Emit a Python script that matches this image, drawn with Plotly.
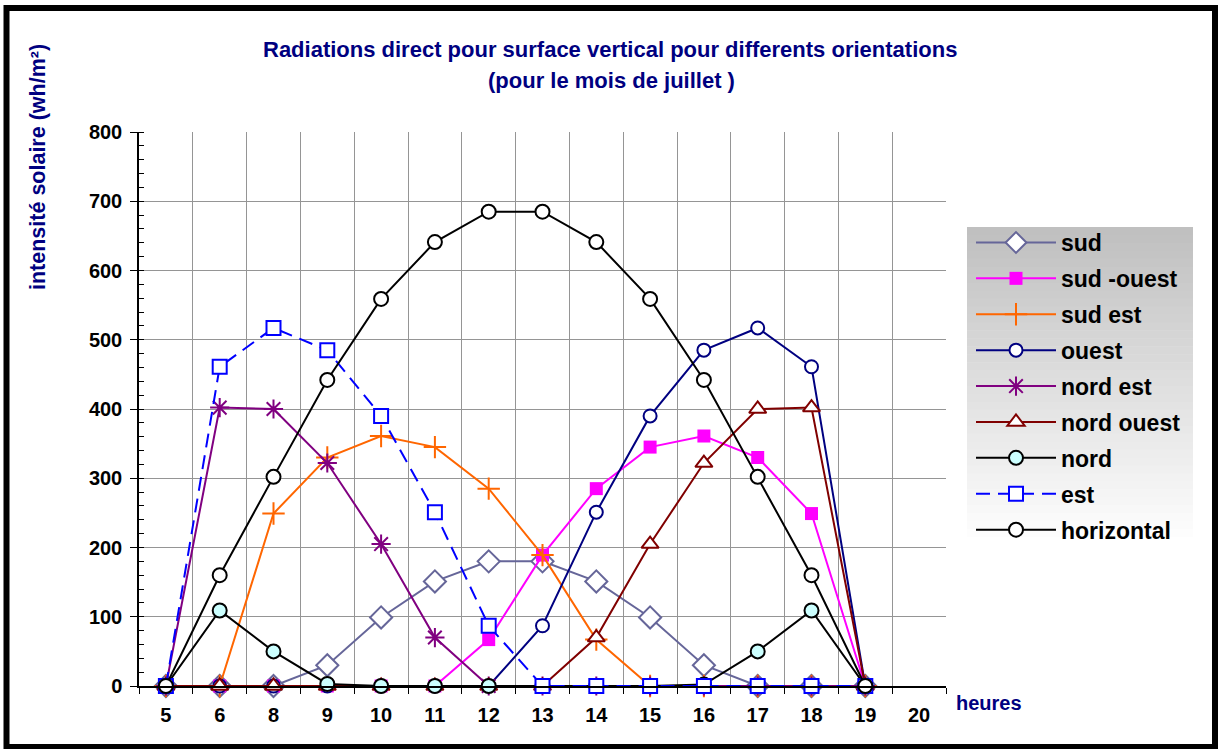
import plotly.graph_objects as go

hours = ["5", "6", "8", "9", "10", "11", "12", "13", "14", "15", "16", "17", "18", "19", "20"]
data_hours = hours[:14]

sud = [0, 0, 0, 30, 99, 151, 180, 180, 151, 99, 30, 0, 0, 0]
sud_ouest = [0, 0, 0, 0, 0, 0, 67, 189, 285, 345, 361, 330, 249, 0]
sud_est = [0, 0, 249, 330, 361, 345, 285, 189, 67, 0, 0, 0, 0, 0]
ouest = [0, 0, 0, 0, 0, 0, 0, 87, 251, 390, 485, 517, 461, 0]
nord_est = [0, 402, 400, 322, 205, 70, 0, 0, 0, 0, 0, 0, 0, 0]
nord_ouest = [0, 0, 0, 0, 0, 0, 0, 0, 70, 205, 322, 400, 402, 0]
nord = [0, 109, 50, 3, 0, 0, 0, 0, 0, 0, 2, 50, 109, 0]
est = [0, 461, 517, 485, 390, 251, 87, 0, 0, 0, 0, 0, 0, 0]
horizontal = [0, 160, 302, 442, 559, 641, 685, 685, 641, 559, 442, 302, 160, 0]

series_names = ["sud", "sud -ouest", "sud est", "ouest", "nord est", "nord ouest", "nord", "est", "horizontal"]
series_values = [sud, sud_ouest, sud_est, ouest, nord_est, nord_ouest, nord, est, horizontal]

FONT = "Liberation Sans, Arial, sans-serif"
NAVY = "#000080"

styles = {
    "sud": dict(line=dict(color="#666699", width=2),
                marker=dict(symbol="diamond", size=17, color="white", line=dict(color="#666699", width=2))),
    "sud -ouest": dict(line=dict(color="#FF00FF", width=2),
                       marker=dict(symbol="square", size=13, color="#FF00FF", line=dict(color="#FF00FF", width=0))),
    "sud est": dict(line=dict(color="#FF6600", width=2),
                    marker=dict(symbol="cross-thin-open", size=16, color="#FF6600", line=dict(color="#FF6600", width=2))),
    "ouest": dict(line=dict(color="#000080", width=2),
                  marker=dict(symbol="circle", size=13, color="white", line=dict(color="#000080", width=2))),
    "nord est": dict(line=dict(color="#800080", width=2),
                     marker=dict(symbol="asterisk-open", size=16, color="#800080", line=dict(color="#800080", width=2))),
    "nord ouest": dict(line=dict(color="#800000", width=2),
                       marker=dict(symbol="triangle-up", size=15, color="white", line=dict(color="#800000", width=2))),
    "nord": dict(line=dict(color="black", width=2),
                 marker=dict(symbol="circle", size=14, color="#CCFFFF", line=dict(color="black", width=2))),
    "est": dict(line=dict(color="#0000FF", width=2, dash="14px,8px"),
                marker=dict(symbol="square", size=14, color="white", line=dict(color="#0000FF", width=2))),
    "horizontal": dict(line=dict(color="black", width=2),
                       marker=dict(symbol="circle", size=14, color="white", line=dict(color="black", width=2))),
}

fig = go.Figure()
for name, vals in zip(series_names, series_values):
    st = styles[name]
    fig.add_trace(go.Scatter(x=data_hours, y=vals, name=name, mode="lines+markers",
                             line=st["line"], marker=st["marker"], cliponaxis=False,
                             legendgroup=name))

L, T, W, H = 139, 132, 807, 554


def px(x):
    return (x - L) / W


def py(y):
    return (T + H - y) / H


shapes = []
# legend gradient background
y0, y1 = 227, 545
n = 40
for i in range(n):
    ya = y0 + (y1 - y0) * i / n
    yb = y0 + (y1 - y0) * (i + 1) / n
    t = i / (n - 1)
    c = int(192 + (255 - 192) * t)
    shapes.append(dict(type="rect", xref="paper", yref="paper",
                       x0=px(967), x1=px(1193), y0=py(yb + 0.5), y1=py(ya),
                       fillcolor=f"rgb({c},{c},{c})", line=dict(width=0), layer="above"))
# outer frame
shapes.append(dict(type="rect", xref="paper", yref="paper",
                   x0=px(6.5), x1=px(1215), y0=py(747), y1=py(8),
                   line=dict(color="black", width=6), fillcolor="rgba(0,0,0,0)", layer="above"))

annotations = [
    dict(text="Radiations direct pour surface vertical pour differents orientations",
         xref="paper", yref="paper", x=px(610), y=py(50), xanchor="center", yanchor="middle",
         showarrow=False, font=dict(family=FONT, size=22, color=NAVY, weight="bold")),
    dict(text="(pour le mois de juillet )",
         xref="paper", yref="paper", x=px(611), y=py(80), xanchor="center", yanchor="middle",
         showarrow=False, font=dict(family=FONT, size=22, color=NAVY, weight="bold")),
    dict(text="intensité solaire (wh/m²)", textangle=-90,
         xref="paper", yref="paper", x=px(38), y=py(167), xanchor="center", yanchor="middle",
         showarrow=False, font=dict(family=FONT, size=21.5, color=NAVY, weight="bold")),
    dict(text="heures",
         xref="paper", yref="paper", x=px(989), y=py(703), xanchor="center", yanchor="middle",
         showarrow=False, font=dict(family=FONT, size=20, color=NAVY, weight="bold")),
]

fig.update_layout(
    width=1222, height=749,
    margin=dict(l=L, r=1222 - L - W, t=T, b=749 - T - H, autoexpand=False),
    paper_bgcolor="white", plot_bgcolor="white",
    shapes=shapes, annotations=annotations,
    showlegend=True,
    legend=dict(x=px(971), y=py(221), xanchor="left", yanchor="top",
                bgcolor="rgba(0,0,0,0)", borderwidth=0,
                font=dict(family=FONT, size=23, color="black", weight="bold"),
                itemwidth=80, tracegroupgap=3, traceorder="grouped"),
)

fig.update_xaxes(type="category", categoryorder="array", categoryarray=hours,
                 tickvals=hours, range=[-0.5, 14.5],
                 tickson="boundaries", ticks="outside", ticklen=6, tickcolor="black",
                 ticklabelstandoff=10,
                 showgrid=True, gridcolor="#959595", gridwidth=1,
                 showline=True, linecolor="black", linewidth=1.5,
                 tickfont=dict(family=FONT, size=20, color="black", weight="bold"),
                 zeroline=False, fixedrange=True)

fig.update_yaxes(range=[0, 800], dtick=100, tick0=0,
                 ticks="outside", ticklen=7, tickcolor="black",
                 ticklabelstandoff=4,
                 minor=dict(ticks="inside", dtick=20, ticklen=5, tickcolor="black", showgrid=False),
                 showgrid=True, gridcolor="#959595", gridwidth=1,
                 showline=True, linecolor="black", linewidth=1.5,
                 tickfont=dict(family=FONT, size=20, color="black", weight="bold"),
                 zeroline=False, fixedrange=True)

fig.write_html("out.html", config={"displayModeBar": False},
               post_script="document.body.style.margin='0px';")
